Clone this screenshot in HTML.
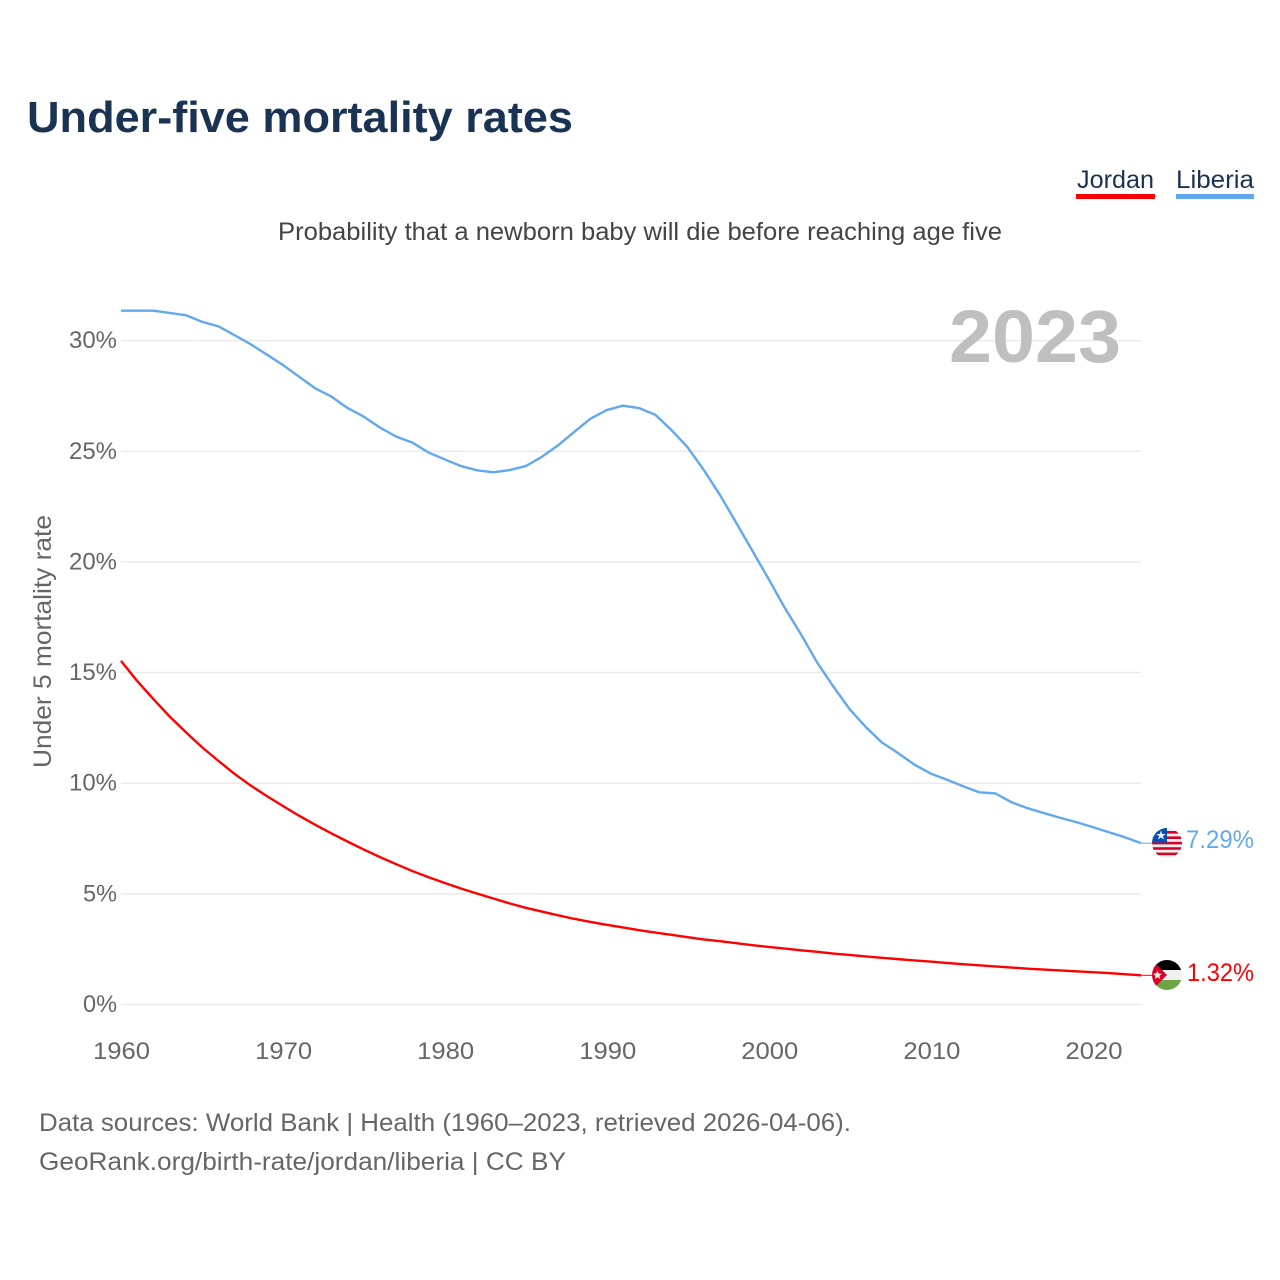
<!DOCTYPE html>
<html lang="en">
<head>
<meta charset="utf-8">
<title>Under-five mortality rates</title>
<style>
html,body{margin:0;padding:0;background:#fff;}
svg{display:block;font-family:"Liberation Sans",sans-serif;}
</style>
</head>
<body>
<svg id="chart" xmlns="http://www.w3.org/2000/svg" width="1280" height="1280" viewBox="0 0 1280 1280">
  <defs>
    <clipPath id="clip-liberia"><circle cx="1167" cy="843" r="15"/></clipPath>
    <clipPath id="clip-jordan"><circle cx="1167" cy="975" r="15"/></clipPath>
  </defs>
  <rect x="0" y="0" width="1280" height="1280" fill="#fff"/>
  <text x="27" y="132" font-size="44" font-weight="700" fill="#1a3353" textLength="546" lengthAdjust="spacingAndGlyphs">Under-five mortality rates</text>
  <text x="278" y="240" font-size="25" fill="#444" textLength="724" lengthAdjust="spacingAndGlyphs">Probability that a newborn baby will die before reaching age five</text>

  <g>
    <g>
      <text x="1077" y="188" font-size="25" fill="#1a3353" textLength="77" lengthAdjust="spacingAndGlyphs">Jordan</text>
      <rect x="1076" y="194" width="79" height="5" fill="#ff0000"/>
    </g>
    <g>
      <text x="1176" y="188" font-size="25" fill="#1a3353" textLength="78" lengthAdjust="spacingAndGlyphs">Liberia</text>
      <rect x="1176" y="194" width="78" height="5" fill="#62a8ef"/>
    </g>
  </g>

  <g id="grid"></g>
  <g id="yticks"></g>
  <g id="xticks"></g>

  <text x="949" y="362" font-size="74" font-weight="700" fill="#bfbfbf" textLength="172" lengthAdjust="spacingAndGlyphs">2023</text>
  <text transform="translate(51,768) rotate(-90)" x="0" y="0" font-size="25" fill="#666" textLength="253" lengthAdjust="spacingAndGlyphs">Under 5 mortality rate</text>

  <g id="series"></g>

  <g clip-path="url(#clip-liberia)">
    <rect x="1152" y="828" width="30" height="30" fill="#f0f0f0"/>
    <rect x="1152" y="831" width="30" height="2.6" fill="#d80027"/>
    <rect x="1152" y="836.4" width="30" height="2.6" fill="#d80027"/>
    <rect x="1152" y="841.8" width="30" height="2.6" fill="#d80027"/>
    <rect x="1152" y="847.2" width="30" height="2.6" fill="#d80027"/>
    <rect x="1152" y="852.6" width="30" height="2.6" fill="#d80027"/>
    <rect x="1152" y="828" width="15" height="14.5" fill="#0052b4"/>
    <polygon points="1161,830.5 1162.2,834 1165.8,834 1162.9,836.1 1164,839.5 1161,837.4 1158,839.5 1159.1,836.1 1156.2,834 1159.8,834" fill="#f0f0f0"/>
  </g>
  <g clip-path="url(#clip-jordan)">
    <rect x="1152" y="960" width="30" height="10.5" fill="#000"/>
    <rect x="1152" y="970" width="30" height="10.5" fill="#f0f0f0"/>
    <rect x="1152" y="980" width="30" height="10" fill="#6da544"/>
    <polygon points="1152,960 1167,975 1152,990" fill="#d80027"/>
    <polygon points="1157.5,970.6 1158.7,973.5 1161.8,973.8 1159.4,975.8 1160.2,978.9 1157.5,977.2 1154.8,978.9 1155.6,975.8 1153.2,973.8 1156.3,973.5" fill="#f0f0f0"/>
  </g>

  <text x="1186" y="848" font-size="25" fill="#62a8ef" textLength="68" lengthAdjust="spacingAndGlyphs">7.29%</text>
  <text x="1187" y="981" font-size="25" fill="#ff0000" textLength="67" lengthAdjust="spacingAndGlyphs">1.32%</text>

  <text x="39" y="1131" font-size="25" fill="#666" textLength="812" lengthAdjust="spacingAndGlyphs">Data sources: World Bank | Health (1960–2023, retrieved 2026-04-06).</text>
  <text x="39" y="1170" font-size="25" fill="#666" textLength="527" lengthAdjust="spacingAndGlyphs">GeoRank.org/birth-rate/jordan/liberia | CC BY</text>
</svg>
<script>
const firstYear = 1960;
const yTickValues = [0, 5, 10, 15, 20, 25, 30];
const xTickYears = [1960, 1970, 1980, 1990, 2000, 2010, 2020];
const jordanValues = [15.53,14.62,13.8,13.02,12.31,11.63,11.02,10.43,9.9,9.42,8.97,8.53,8.12,7.73,7.36,7.0,6.66,6.34,6.03,5.75,5.49,5.24,5.01,4.79,4.57,4.37,4.2,4.03,3.87,3.73,3.6,3.48,3.36,3.25,3.15,3.04,2.94,2.86,2.77,2.68,2.6,2.53,2.45,2.38,2.3,2.24,2.17,2.11,2.05,1.99,1.94,1.88,1.82,1.77,1.72,1.67,1.62,1.58,1.54,1.5,1.46,1.42,1.37,1.32];
const liberiaValues = [31.35,31.35,31.35,31.25,31.15,30.85,30.65,30.25,29.84,29.37,28.9,28.37,27.84,27.47,26.95,26.56,26.07,25.66,25.39,24.94,24.63,24.33,24.14,24.05,24.15,24.33,24.75,25.27,25.88,26.47,26.86,27.06,26.95,26.65,25.96,25.18,24.15,23.02,21.77,20.5,19.23,17.92,16.73,15.45,14.37,13.35,12.54,11.84,11.36,10.84,10.44,10.16,9.87,9.59,9.54,9.14,8.87,8.65,8.44,8.24,8.02,7.79,7.56,7.29];

const NS = 'http://www.w3.org/2000/svg';
const xScale = year => 121 + (year - firstYear) * 16.19;
const xTickScale = year => 121.5 + (year - firstYear) * 16.208;
const yScale = value => 1004.5 - value * 22.13;

const grid = document.getElementById('grid');
const yTicks = document.getElementById('yticks');
const xTicks = document.getElementById('xticks');
const seriesGroup = document.getElementById('series');

yTickValues.forEach(v => {
  const line = document.createElementNS(NS, 'line');
  
  
  line.setAttribute('x1', 121);
  line.setAttribute('x2', 1141);
  line.setAttribute('y1', yScale(v));
  line.setAttribute('y2', yScale(v));
  line.setAttribute('stroke', '#ebebeb');
  line.setAttribute('stroke-width', 1.5);
  grid.appendChild(line);

  const label = document.createElementNS(NS, 'text');
  
  
  const text = v + '%';
  label.textContent = text;
  const w = text.length === 3 ? 48 : 34;
  label.setAttribute('x', 117 - w);
  label.setAttribute('y', yScale(v) + 7.5);
  label.setAttribute('font-size', 24);
  label.setAttribute('fill', '#666');
  label.setAttribute('textLength', w);
  label.setAttribute('lengthAdjust', 'spacingAndGlyphs');
  yTicks.appendChild(label);
});

xTickYears.forEach(y => {
  const label = document.createElementNS(NS, 'text');
  
  
  label.textContent = String(y);
  label.setAttribute('x', xTickScale(y) - 28.5);
  label.setAttribute('y', 1059);
  label.setAttribute('font-size', 24);
  label.setAttribute('fill', '#666');
  label.setAttribute('textLength', 57);
  label.setAttribute('lengthAdjust', 'spacingAndGlyphs');
  xTicks.appendChild(label);
});

function drawSeries(values, color, seriesName) {
  const pts = values.map((v, i) => xScale(firstYear + i).toFixed(2) + ',' + yScale(v).toFixed(2));
  const line = document.createElementNS(NS, 'polyline');
  
  
  line.setAttribute('points', pts.join(' '));
  line.setAttribute('fill', 'none');
  line.setAttribute('stroke', color);
  line.setAttribute('stroke-width', 2.4);
  line.setAttribute('stroke-linejoin', 'round');
  seriesGroup.appendChild(line);

  const lastY = yScale(values[values.length - 1]);
  const stub = document.createElementNS(NS, 'line');
  
  
  stub.setAttribute('x1', xScale(firstYear + values.length - 1));
  stub.setAttribute('x2', 1153);
  stub.setAttribute('y1', lastY);
  stub.setAttribute('y2', lastY);
  stub.setAttribute('stroke', color);
  stub.setAttribute('stroke-width', 1);
  seriesGroup.appendChild(stub);
}
drawSeries(liberiaValues, '#62a8ef', 'line-liberia');
drawSeries(jordanValues, '#ff0000', 'line-jordan');
</script>
</body>
</html>
